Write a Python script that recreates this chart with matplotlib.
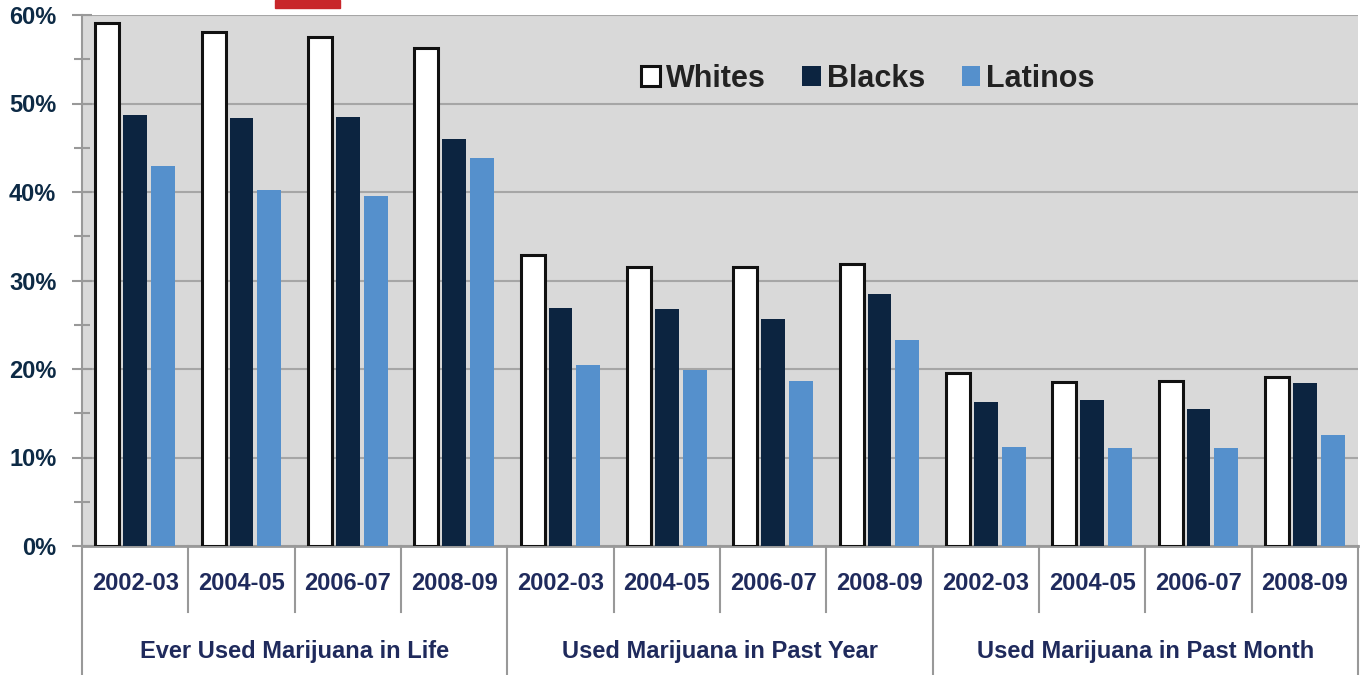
import matplotlib
matplotlib.use("Agg")
import matplotlib.pyplot as plt
import matplotlib.patches as mpatches
import matplotlib.transforms as mtransforms
import numpy as np

plt.rcParams['font.family'] = ['Liberation Sans', 'DejaVu Sans']

years = ["2002-03", "2004-05", "2006-07", "2008-09"]
groups = ["Ever Used Marijuana in Life", "Used Marijuana in Past Year", "Used Marijuana in Past Month"]
series_names = ["Whites", "Blacks", "Latinos"]
whites = [59.1, 58.1, 57.5, 56.3, 32.9, 31.5, 31.5, 31.9, 19.5, 18.5, 18.6, 19.1]
blacks = [48.7, 48.4, 48.5, 46.0, 26.9, 26.8, 25.6, 28.5, 16.3, 16.5, 15.5, 18.4]
latinos = [42.9, 40.2, 39.5, 43.8, 20.5, 19.9, 18.6, 23.3, 11.2, 11.1, 11.1, 12.5]
yticks = [0, 10, 20, 30, 40, 50, 60]

fig = plt.figure(figsize=(13.64, 6.75), dpi=100)
ax = fig.add_axes([82/1364, 1-546/675, (1358-82)/1364, (546-15)/675])
ax.set_facecolor('#d9d9d9')

n = len(whites)
x = np.arange(n)
w = 0.225
off = 0.262
navy = '#0c2440'
light = '#5590cc'
ax.bar(x - off, whites, w, color='white', edgecolor='#111111', linewidth=2.2, zorder=3, label=series_names[0])
ax.bar(x, blacks, w, color=navy, zorder=3, label=series_names[1])
ax.bar(x + off, latinos, w, color=light, zorder=3, label=series_names[2])

ax.set_xlim(-0.5, n - 0.5)
ax.set_ylim(0, 60)
ax.set_yticks(yticks)
ax.set_yticklabels([f"{v}%" for v in yticks], fontsize=17, fontweight='bold', color='#0d2a45')
ax.set_yticks(np.arange(5, 60, 10), minor=True)
ax.yaxis.grid(True, color='#a6a6a6', linewidth=1.5, zorder=0)
ax.set_axisbelow(True)
ax.tick_params(axis='y', which='major', direction='inout', length=14, width=1.5, color='#999999', pad=11.5)
ax.tick_params(axis='y', which='minor', direction='inout', length=12, width=1.5, color='#999999')
ax.set_xticks([])
for s in ['top', 'right']:
    ax.spines[s].set_visible(False)
ax.spines['left'].set_color('#999999')
ax.spines['left'].set_linewidth(1.5)
ax.spines['bottom'].set_color('#999999')
ax.spines['bottom'].set_linewidth(2)

trans = mtransforms.blended_transform_factory(ax.transData, ax.transAxes)
lab_col = '#1f2a5c'
for i in range(n):
    ax.text(i, -0.0697, years[i % 4], transform=trans, ha='center', va='center',
            fontsize=17, fontweight='bold', color=lab_col)
for b in range(n + 1):
    xb = b - 0.5
    bottom = -0.245 if b % 4 == 0 else -0.124
    ax.plot([xb, xb], [0, bottom], transform=trans, color='#999999', linewidth=1.5, clip_on=False)
for g, name in enumerate(groups):
    ax.text(g * 4 + 1.5, -0.198, name, transform=trans, ha='center', va='center',
            fontsize=17, fontweight='bold', color=lab_col)

leg = ax.legend(loc='center', bbox_to_anchor=(0.616, 0.88), ncol=3, frameon=False,
                handlelength=0.6, handleheight=0.6, handletextpad=0.2, columnspacing=1.2,
                prop={'size': 22, 'weight': 'bold'})
for t in leg.get_texts():
    t.set_color('#222222')

fig.patches.append(mpatches.Rectangle((275/1364, 1-8/675), 65/1364, 8/675,
                                      transform=fig.transFigure, color='#c8262a'))

fig.savefig('out.png', dpi=100, facecolor='white')
